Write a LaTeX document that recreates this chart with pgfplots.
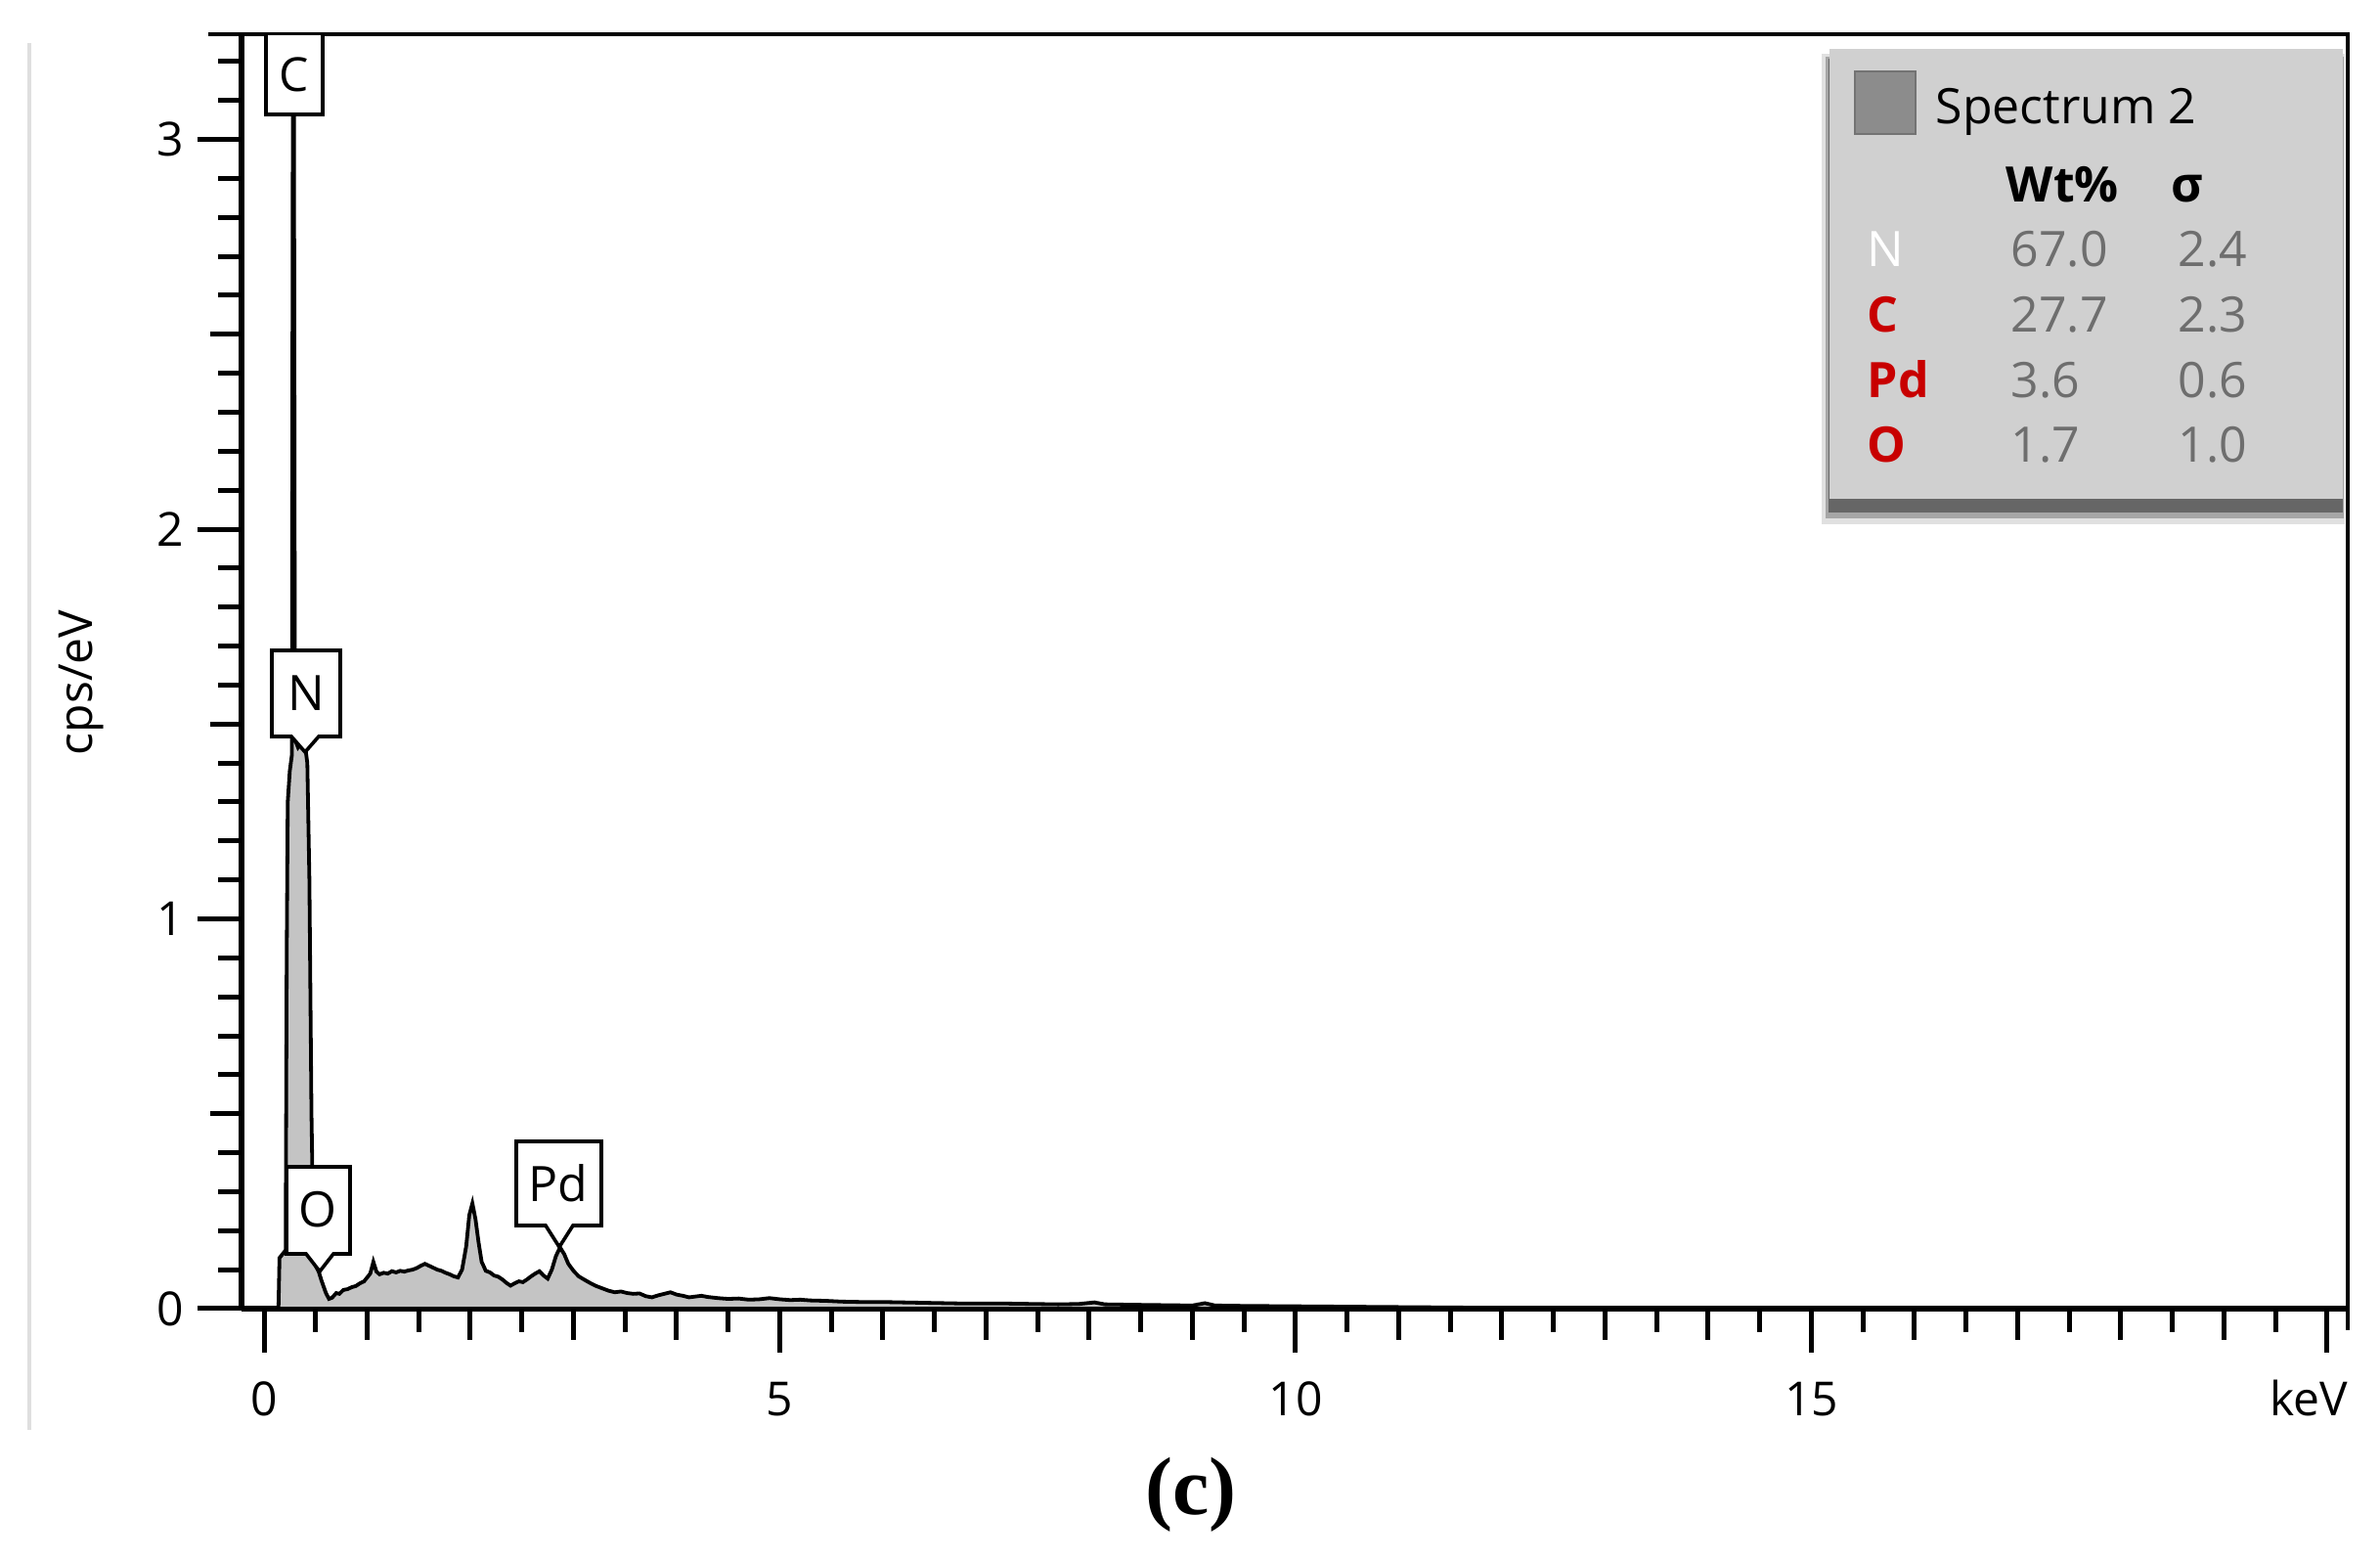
\documentclass[border=0pt]{standalone}
\usepackage{fontspec}
\setmainfont{Open Sans}
\newfontfamily\capfont{Liberation Serif}
\usepackage{pgfplots}
\pgfplotsset{compat=1.18}

\definecolor{specfill}{HTML}{C4C4C4}
\definecolor{legbg}{HTML}{D0D0D0}
\definecolor{elred}{HTML}{C80000}
\definecolor{valgray}{HTML}{6E6E6E}
\newcommand\fs[1]{\fontsize{#1}{#1}\selectfont}

\begin{document}
\begin{tikzpicture}
\useasboundingbox (0,0) rectangle (608.5bp,398.75bp);
\begin{axis}[
  at={(61.75bp,64.25bp)}, anchor=south west,
  scale only axis, width=538.25bp, height=325.75bp,
  xmin=-0.218, xmax=20.19, ymin=0, ymax=3.27,
  axis lines*=left, axis line style={line width=1.6bp, -},
  clip=false,
  tick align=outside,
  xtick={0,5,10,15,20}, xticklabels={0,5,10,15,{}},
  ytick={0,1,2,3},
  minor xtick={0.5,1.5,...,19.5},
  minor ytick={0.1,0.2,...,3.2},
  extra x ticks={1,2,3,4,6,7,8,9,11,12,13,14,16,17,18,19},
  extra y ticks={0.5,1.5,2.5},
  extra x tick labels={}, extra y tick labels={},
  extra x tick style={major tick length=8bp},
  extra y tick style={major tick length=8bp},
  major tick length=11.25bp, minor tick length=6bp,
  every tick/.style={black, line width=1.25bp},
  tick label style={font=\fs{12bp}},
  /pgf/number format/assume math mode=true,
  xticklabel style={yshift=-4bp},
]
% EDS spectrum (keV, cps/eV)
\addplot[draw=black, line width=0.95bp, fill=specfill] coordinates {
(0.10,0) (0.14,0) (0.15,0.13) (0.18,0.14) (0.21,0.15) (0.22,0.9)
(0.23,1.30) (0.25,1.38) (0.27,1.42) (0.28,3.15) (0.29,3.15) (0.30,1.46)
(0.33,1.44) (0.36,1.45) (0.39,1.46) (0.42,1.40) (0.44,1.10) (0.46,0.50)
(0.48,0.16) (0.50,0.11) (0.53,0.095) (0.56,0.07) (0.60,0.04) (0.63,0.025)
(0.66,0.028) (0.70,0.04) (0.73,0.038) (0.77,0.048) (0.81,0.05) (0.85,0.055)
(0.89,0.058) (0.93,0.065) (0.97,0.07) (1.00,0.08) (1.03,0.09) (1.06,0.12)
(1.09,0.095) (1.12,0.088) (1.16,0.092) (1.20,0.09) (1.24,0.096) (1.28,0.093)
(1.32,0.097) (1.36,0.095) (1.40,0.098) (1.44,0.10) (1.48,0.104) (1.52,0.11)
(1.56,0.115) (1.60,0.11) (1.64,0.105) (1.68,0.10) (1.72,0.097) (1.76,0.092)
(1.80,0.088) (1.84,0.083) (1.88,0.08) (1.92,0.10) (1.96,0.16) (1.99,0.24)
(2.02,0.27) (2.05,0.23) (2.08,0.17) (2.11,0.12) (2.15,0.097) (2.19,0.093)
(2.23,0.085) (2.27,0.082) (2.31,0.075) (2.35,0.066) (2.39,0.059) (2.43,0.065)
(2.47,0.070) (2.51,0.068) (2.55,0.075) (2.59,0.083) (2.63,0.09) (2.67,0.096)
(2.71,0.085) (2.75,0.077) (2.79,0.10) (2.83,0.135) (2.87,0.157) (2.91,0.14)
(2.95,0.115) (3.00,0.097) (3.05,0.083) (3.10,0.075) (3.16,0.066) (3.22,0.058)
(3.28,0.052) (3.34,0.046) (3.40,0.042) (3.46,0.044) (3.52,0.040) (3.58,0.038)
(3.64,0.039) (3.70,0.032) (3.76,0.029) (3.82,0.034) (3.88,0.038) (3.94,0.042)
(4.00,0.036) (4.06,0.033) (4.12,0.029) (4.18,0.031) (4.24,0.033) (4.30,0.030)
(4.40,0.027) (4.50,0.025) (4.60,0.026) (4.70,0.023) (4.80,0.024) (4.90,0.027)
(5.00,0.024) (5.10,0.022) (5.20,0.023) (5.30,0.021) (5.45,0.020) (5.60,0.018)
(5.80,0.017) (6.00,0.017) (6.20,0.016) (6.40,0.015) (6.60,0.014) (6.80,0.013)
(7.00,0.013) (7.20,0.013) (7.45,0.012) (7.70,0.011) (7.90,0.012) (8.05,0.016)
(8.15,0.011) (8.40,0.010) (8.70,0.009) (9.00,0.008) (9.12,0.014) (9.22,0.008)
(9.50,0.007) (10.0,0.006) (10.5,0.005) (11.0,0.004) (11.5,0.003) (12.0,0.002)
(13.0,0.001) (14.0,0) (20.0,0)
} \closedcycle;
\end{axis}

% everything else placed in the reference's pixel grid (origin top left)
\begin{scope}[shift={(0,398.75bp)}, x=0.25bp, y=-0.25bp]
  % screenshot frame
  \draw[gray!25, line width=1bp] (30,44) -- (30,1462);
  \draw[black, line width=1.1bp] (213,35) -- (2401,35) -- (2401,1360);

  % peak labels
  \fill[white] (272,36) rectangle (330,117);
  \draw[line width=0.9bp] (272,36) -- (272,117) -- (330,117) -- (330,36);
  \node[font=\fs{12bp}] at (301,76) {C};
  \draw[line width=0.9bp, fill=white] (278,665) -- (348,665) -- (348,753) -- (326,753)
    -- (312,769) -- (298,753) -- (278,753) -- cycle;
  \node[font=\fs{12.5bp}] at (313,709) {N};
  \draw[line width=0.9bp, fill=white] (293,1193) -- (358,1193) -- (358,1282) -- (341,1282)
    -- (327,1300) -- (313,1282) -- (293,1282) -- cycle;
  \node[font=\fs{12.5bp}] at (325,1237) {O};
  \draw[line width=0.9bp, fill=white] (528,1167) -- (615,1167) -- (615,1253) -- (586,1253)
    -- (572,1275) -- (558,1253) -- (528,1253) -- cycle;
  \node[font=\fs{12.5bp}] at (571,1210) {Pd};

  % axis labels
  \node[font=\fs{12bp}] at (2361,1430) {keV};
  \node[font=\fs{12bp}, rotate=90] at (83,698) {cps/eV};
  \node[font=\capfont\bfseries\fs{21bp}] at (1218,1528) {(c)};

  % results box
  \fill[black!12] (1863,55) rectangle (2398,536);
  \fill[black!35] (1867,58) rectangle (2397,530);
  \fill[black!60] (1870,60) rectangle (2396,524);
  \fill[legbg] (1871,50) rectangle (2396,510);
  \filldraw[fill=gray!90, draw=gray!110] (1897,73) rectangle (1959,137);
  \node[anchor=base west, font=\fs{12.5bp}, inner sep=0] at (1979,127) {Spectrum 2};
  \node[anchor=base west, font=\fs{12.5bp}\bfseries, inner sep=0] at (2051,207) {Wt\%};
  \node[anchor=base west, font=\fs{12.5bp}\bfseries, inner sep=0] at (2220,207) {σ};
  \begin{scope}[every node/.style={anchor=base west, inner sep=0, font=\fs{12.5bp}}]
    \node[white] at (1909,273) {N};
    \node[elred, font=\fs{12.5bp}\bfseries] at (1909,340) {C};
    \node[elred, font=\fs{12.5bp}\bfseries] at (1909,407) {Pd};
    \node[elred, font=\fs{12.5bp}\bfseries] at (1909,473) {O};
    \node[valgray] at (2056,273) {67.0};
    \node[valgray] at (2056,340) {27.7};
    \node[valgray] at (2056,407) {3.6};
    \node[valgray] at (2056,473) {1.7};
    \node[valgray] at (2227,273) {2.4};
    \node[valgray] at (2227,340) {2.3};
    \node[valgray] at (2227,407) {0.6};
    \node[valgray] at (2227,473) {1.0};
  \end{scope}
\end{scope}
\end{tikzpicture}
\end{document}
